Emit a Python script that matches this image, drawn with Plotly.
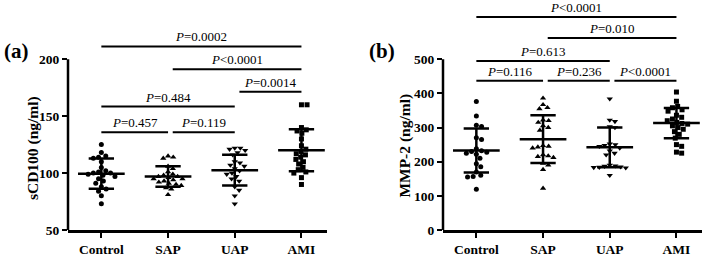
import plotly.graph_objects as go

# ---------------- data ----------------
categories = ["Control", "SAP", "UAP", "AMI"]

scd100_control = [125, 118, 115, 114, 113, 110, 105, 102, 101, 100, 100, 99, 98, 97, 95, 93, 91, 88, 86, 84, 80, 73]
scd100_sap = [115, 114, 113, 106, 104, 101, 99, 98, 97, 97, 96, 95, 95, 94, 93, 92, 91, 90, 89, 87, 86, 81]
scd100_uap = [122, 122, 121, 120, 118, 116, 110, 109, 107, 106, 104, 102, 100, 99, 97, 95, 93, 88, 85, 80, 73]
scd100_ami = [160, 160, 140, 138, 137, 135, 130, 124, 121, 119, 117, 116, 114, 112, 110, 108, 105, 103, 101, 100, 96, 90]
scd100_mean = [99.5, 97.0, 102.5, 120.0]
scd100_sd = [13.3, 9.0, 13.5, 18.5]

mmp2_control = [376, 334, 307, 303, 270, 265, 238, 232, 230, 228, 225, 222, 210, 194, 185, 170, 160, 157, 155, 119]
mmp2_sap = [386, 367, 358, 355, 322, 320, 315, 305, 300, 292, 247, 245, 243, 240, 220, 217, 215, 212, 195, 190, 177, 122]
mmp2_uap = [384, 322, 318, 303, 300, 252, 250, 248, 245, 240, 232, 225, 220, 190, 188, 187, 185, 184, 183, 182, 160]
mmp2_ami = [404, 377, 362, 358, 352, 348, 336, 330, 325, 320, 315, 312, 310, 305, 300, 295, 288, 280, 269, 250, 245, 228, 225]
mmp2_mean = [233, 266, 242, 313]
mmp2_sd = [64.5, 70, 58.5, 44]

scd100_ticks = [50, 100, 150, 200]
mmp2_ticks = [0, 100, 200, 300, 400, 500]

# comparisons: (group i, group j, bracket height in data units, p text)
scd100_pvals = [(0, 3, 211.3, "<i>P</i>=0.0002"),
                (1, 3, 191.3, "<i>P</i>&lt;0.0001"),
                (2, 3, 171.4, "<i>P</i>=0.0014"),
                (0, 2, 158.4, "<i>P</i>=0.484"),
                (0, 1, 135.8, "<i>P</i>=0.457"),
                (1, 2, 135.8, "<i>P</i>=0.119")]
mmp2_pvals = [(0, 3, 624, "<i>P</i>&lt;0.0001"),
              (1, 3, 562, "<i>P</i>=0.010"),
              (0, 2, 495, "<i>P</i>=0.613"),
              (0, 1, 437, "<i>P</i>=0.116"),
              (1, 2, 437, "<i>P</i>=0.236"),
              (2, 3, 437, "<i>P</i>&lt;0.0001")]

# ---------------- layout geometry ----------------
W, H = 709, 257
T, B = 2, 24
PH = H - T - B
FONT = "Liberation Serif, Times New Roman, serif"
XR = [-0.5, 3.38]
XPX = 66.7  # px per category unit
dom_a = [68 / W, (68 + (XR[1] - XR[0]) * XPX) / W]
dom_b = [443 / W, (443 + (XR[1] - XR[0]) * XPX) / W]
ya_px = 173 / 150.0
yb_px = 173 / 500.0
yr_a = [50, 200 + (60 - T) / ya_px]
yr_b = [0, 500 + (60 - T) / yb_px]


def paper_y(ypx):
    return (H - B - ypx) / PH


def swarm(vals, ypu, d=5.3):
    placed = []
    out = []
    for v in vals:
        y = v * ypu
        chosen = 0.0
        for k in range(0, 200):
            found = False
            for s in ((1, -1) if k else (1,)):
                x = s * k * 0.4
                if all((x - px) ** 2 + (y - pyy) ** 2 >= d * d for px, pyy in placed):
                    chosen = x
                    found = True
                    break
            if found:
                break
        placed.append((chosen, y))
        out.append(chosen / XPX)
    return out


fig = go.Figure()
symbols = ["circle", "triangle-up", "triangle-down", "square"]
sizes = [5, 5.5, 5.5, 5]

panels = [
    ("x", "y", [scd100_control, scd100_sap, scd100_uap, scd100_ami], scd100_mean, scd100_sd, ya_px),
    ("x2", "y2", [mmp2_control, mmp2_sap, mmp2_uap, mmp2_ami], mmp2_mean, mmp2_sd, yb_px),
]

for xa, yax, groups, means, sds, ypu in panels:
    for i, vals in enumerate(groups):
        offs = swarm(vals, ypu)
        fig.add_trace(go.Scatter(
            x=[i + o for o in offs], y=vals, mode="markers", xaxis=xa, yaxis=yax,
            marker=dict(symbol=symbols[i], size=sizes[i], color="black", line=dict(width=0)),
            showlegend=False, cliponaxis=False, hoverinfo="skip"))
    lx, ly = [], []
    for i, (m, s) in enumerate(zip(means, sds)):
        lx += [i - 0.35, i + 0.35, None, i - 0.19, i + 0.19, None, i - 0.19, i + 0.19, None, i, i, None]
        ly += [m, m, None, m + s, m + s, None, m - s, m - s, None, m - s, m + s, None]
    fig.add_trace(go.Scatter(x=lx, y=ly, mode="lines", xaxis=xa, yaxis=yax,
                             line=dict(color="black", width=2.5), showlegend=False,
                             hoverinfo="skip", cliponaxis=False))

shapes = []
annotations = []
for xa, yax, pv in (("x", "y", scd100_pvals), ("x2", "y2", mmp2_pvals)):
    for i, j, yv, txt in pv:
        x0 = i + (0.07 if i > 0 else 0.0)
        x1 = j
        shapes.append(dict(type="line", xref=xa, yref=yax, x0=x0, x1=x1, y0=yv, y1=yv,
                           line=dict(color="black", width=2)))
        annotations.append(dict(xref=xa, yref=yax, x=(x0 + x1) / 2, y=yv, text=txt,
                                showarrow=False, yanchor="bottom", yshift=0,
                                font=dict(family=FONT, size=13, color="black")))

# custom y-axis lines (stop at top tick)
shapes.append(dict(type="line", xref="paper", yref="y", x0=dom_a[0], x1=dom_a[0], y0=50 - 1 / ya_px, y1=200,
                   line=dict(color="black", width=2.5)))
shapes.append(dict(type="line", xref="paper", yref="y2", x0=dom_b[0], x1=dom_b[0], y0=0 - 1 / yb_px, y1=500,
                   line=dict(color="black", width=2.5)))

# axis titles and panel labels
annotations.append(dict(xref="paper", yref="paper", x=33 / W, y=paper_y(150), text="sCD100 (ng/ml)",
                        textangle=-90, showarrow=False, xanchor="center", yanchor="middle",
                        font=dict(family=FONT, size=15.5, color="black", weight="bold")))
annotations.append(dict(xref="paper", yref="paper", x=405 / W, y=paper_y(147.5), text="MMP-2 (ng/ml)",
                        textangle=-90, showarrow=False, xanchor="center", yanchor="middle",
                        font=dict(family=FONT, size=15.5, color="black", weight="bold")))
annotations.append(dict(xref="paper", yref="paper", x=16 / W, y=paper_y(52), text="(a)",
                        showarrow=False, xanchor="center", yanchor="middle",
                        font=dict(family=FONT, size=21, color="black", weight="bold")))
annotations.append(dict(xref="paper", yref="paper", x=382 / W, y=paper_y(52), text="(b)",
                        showarrow=False, xanchor="center", yanchor="middle",
                        font=dict(family=FONT, size=21, color="black", weight="bold")))

tickfont = dict(family=FONT, size=13.5, color="black", weight="bold")
xcommon = dict(range=XR, tickvals=[0, 1, 2, 3], ticktext=categories, showline=True, linewidth=2.5,
               linecolor="black", ticks="outside", ticklen=5, tickwidth=2, tickcolor="black",
               tickfont=tickfont, showgrid=False, zeroline=False, fixedrange=True)
ycommon = dict(ticks="outside", ticklen=5, tickwidth=2, tickcolor="black", tickfont=tickfont,
               showline=False, showgrid=False, zeroline=False, domain=[0, 1], fixedrange=True)

fig.update_layout(
    width=W, height=H, margin=dict(l=0, r=0, t=T, b=B),
    paper_bgcolor="white", plot_bgcolor="white",
    font=dict(family=FONT, color="black"),
    xaxis=dict(domain=dom_a, anchor="y", **xcommon),
    yaxis=dict(range=yr_a, tickvals=scd100_ticks, anchor="x", **ycommon),
    xaxis2=dict(domain=dom_b, anchor="y2", **xcommon),
    yaxis2=dict(range=yr_b, tickvals=mmp2_ticks, anchor="x2", **ycommon),
    shapes=shapes, annotations=annotations, showlegend=False,
)

fig.write_html("out.html", config={"displayModeBar": False},
               post_script="document.body.style.margin='0';document.body.style.overflow='hidden';")
